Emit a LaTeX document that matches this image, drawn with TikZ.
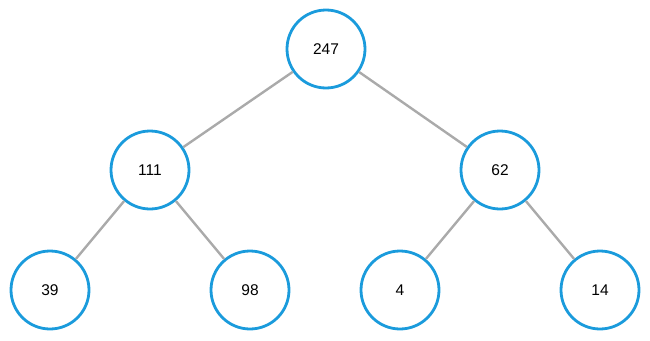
\documentclass[tikz,border=0pt]{standalone}
\usepackage{fontspec}
\setmainfont{Liberation Sans}
\definecolor{heapblue}{HTML}{1A9BDC}
\definecolor{edgegray}{HTML}{AAAAAA}
\begin{document}
\begin{tikzpicture}[
        x=1pt, y=-1pt,
        key/.style={circle, draw=heapblue, line width=2.8pt, fill=white, minimum size=78pt, inner sep=0pt, font=\fontsize{15.5}{18}\selectfont},
        link/.style={draw=edgegray, line width=2.4pt}
    ]
        \useasboundingbox (0,0) rectangle (650,340);
        % === Level 0 ===
        \node[key] (R) at (326,49) {247};
        % === Level 1 ===
        \node[key] (L) at (150,170) {111};
        \node[key] (M) at (500,170) {62};
        % === Level 2 ===
        \node[key] (LL) at (50,290) {39};
        \node[key] (LR) at (250,290) {98};
        \node[key] (ML) at (400,290) {4};
        \node[key] (MR) at (600,290) {14};
        \draw[link] (R) -- (L); \draw[link] (R) -- (M);
        \draw[link] (L) -- (LL); \draw[link] (L) -- (LR);
        \draw[link] (M) -- (ML); \draw[link] (M) -- (MR);
    \end{tikzpicture}
\end{document}
